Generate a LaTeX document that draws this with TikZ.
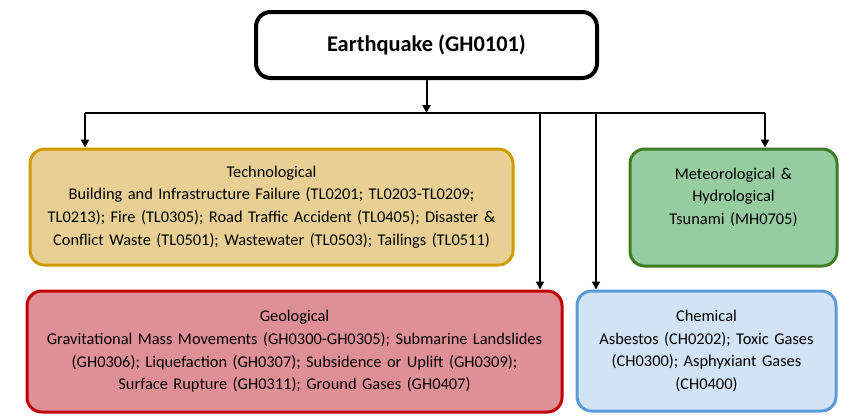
\documentclass[tikz,border=0pt]{standalone}
\usepackage{fontspec}
\setmainfont{Carlito}
\usetikzlibrary{positioning,arrows.meta,calc}

\definecolor{techfill}{HTML}{E8D094}
\definecolor{techline}{HTML}{CC9C00}
\definecolor{metfill}{HTML}{97CBA0}
\definecolor{metline}{HTML}{3D7D25}
\definecolor{geofill}{HTML}{DE9096}
\definecolor{geoline}{HTML}{C00000}
\definecolor{chemfill}{HTML}{D2E3F5}
\definecolor{chemline}{HTML}{5B9BD5}

\begin{document}
\begin{tikzpicture}
    [ x=0.75pt, y=-0.75pt
    , box/.style={draw, rounded corners=11pt, line width=2.25pt, align=center, inner sep=0pt, font=\fontsize{12.3}{17}\selectfont}
    , arrow/.style={line width=1.5pt, -{Triangle[width=6pt,length=6pt]}}
    ]
  \useasboundingbox (0,0) rectangle (857,418);
  \node[box, line width=3pt, minimum width=255.75pt, minimum height=49.5pt, font=\fontsize{16.8}{20}\selectfont\bfseries]
    (eq) at (426.5,45) {Earthquake (GH0101)};
  \node[box, fill=techfill, draw=techline, minimum width=362.25pt, minimum height=87pt, text width=345pt]
    (tech) at (271.5,207) {Technological\\Building and Infrastructure Failure (TL0201; TL0203-TL0209;\\TL0213); Fire (TL0305); Road Traffic Accident (TL0405); Disaster \&\\Conflict Waste (TL0501); Wastewater (TL0503); Tailings (TL0511)};
  \node[box, fill=metfill, draw=metline, minimum width=155.25pt, minimum height=87.75pt, text width=145pt]
    (met) at (733.5,207.5) {Meteorological \&\\Hydrological\\Tsunami (MH0705)\\\mbox{}};
  \node[box, fill=geofill, draw=geoline, minimum width=401.25pt, minimum height=90.75pt, text width=392pt]
    (geo) at (294.5,351.5) {Geological\\Gravitational Mass Movements (GH0300-GH0305); Submarine Landslides\\(GH0306); Liquefaction (GH0307); Subsidence or Uplift (GH0309);\\Surface Rupture (GH0311); Ground Gases (GH0407)};
  \node[box, fill=chemfill, draw=chemline, minimum width=194.25pt, minimum height=90pt, text width=185pt]
    (chem) at (706.5,351) {Chemical\\Asbestos (CH0202); Toxic Gases\\(CH0300); Asphyxiant Gases\\(CH0400)};

  \coordinate (busL) at (85,113);
  \coordinate (busR) at (765,113);
  \coordinate (busG) at (540,113);
  \coordinate (busC) at (596,113);
  \draw[line width=1.5pt] (busL) -- (busR);
  \draw[arrow] (eq.south) -- (eq.south |- busL);
  \draw[arrow] (busL) -- (busL |- tech.north);
  \draw[arrow] (busR) -- (busR |- met.north);
  \draw[arrow] (busG) -- (busG |- geo.north);
  \draw[arrow] (busC) -- (busC |- chem.north);
\end{tikzpicture}
\end{document}
